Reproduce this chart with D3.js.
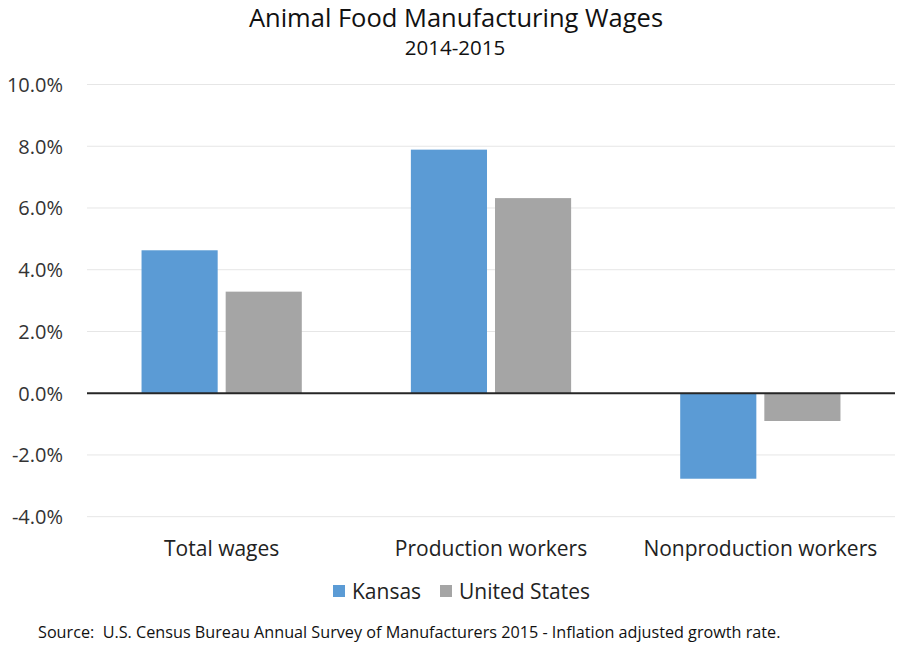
<!DOCTYPE html>
<html><head><meta charset="utf-8">
<script src="https://cdn.jsdelivr.net/npm/d3@7"></script>
<style>body{margin:0;background:#fff;} svg{display:block;font-family:"Open Sans",sans-serif;}</style>
</head><body><svg id="c" width="911" height="646"></svg>
<script>
const categories = ["Total wages", "Production workers", "Nonproduction workers"];
const seriesNames = ["Kansas", "United States"];
const kansas = [4.63, 7.89, -2.77];
const unitedStates = [3.29, 6.32, -0.90];
const yTicks = [-4, -2, 0, 2, 4, 6, 8, 10];
const colors = ["#5B9BD5", "#A5A5A5"];

const svg = d3.select("#c");
const plotLeft = 87, plotRight = 895, plotTop = 84.5, plotBottom = 516.7;
const y = d3.scaleLinear().domain([-4, 10]).range([plotBottom, plotTop]);
const x0 = d3.scaleBand().domain(categories).range([plotLeft, plotRight]).paddingInner(0.405).paddingOuter(0.2025);
const x1 = d3.scaleBand().domain(seriesNames).range([0, x0.bandwidth()]).paddingInner(0.095);

// gridlines
svg.append("g").selectAll("line").data(yTicks.filter(d => d !== 0)).join("line")
  .attr("x1", plotLeft).attr("x2", plotRight)
  .attr("y1", d => y(d)).attr("y2", d => y(d))
  .attr("stroke", "#e6e6e6").attr("stroke-width", 1);

// axis labels
const yAxis = d3.axisLeft(y).tickValues(yTicks).tickSize(0).tickPadding(0)
  .tickFormat(d => d.toFixed(1) + "%");
const ga = svg.append("g").attr("transform", "translate(63,0)").call(yAxis);
ga.select(".domain").remove();
ga.selectAll("text").attr("font-size", 20).attr("fill", "#333").attr("font-family", "'Open Sans',sans-serif").attr("dy", "0.35em");

// bars
const rows = categories.map((c, i) => ({c, vals: [kansas[i], unitedStates[i]]}));
const g = svg.append("g");
rows.forEach(r => {
  r.vals.forEach((v, j) => {
    g.append("rect")
      .attr("x", x0(r.c) + x1(seriesNames[j]))
      .attr("width", x1.bandwidth())
      .attr("y", y(Math.max(0, v)))
      .attr("height", Math.abs(y(v) - y(0)))
      .attr("fill", colors[j]);
  });
});

// zero line
svg.append("line").attr("x1", plotLeft).attr("x2", plotRight).attr("y1", y(0)).attr("y2", y(0))
  .attr("stroke", "#262626").attr("stroke-width", 2);

// category labels
svg.append("g").selectAll("text").data(categories).join("text")
  .attr("x", d => x0(d) + x0.bandwidth() / 2).attr("y", 556)
  .attr("text-anchor", "middle").attr("font-size", 21).attr("fill", "#222").text(d => d);

// title
svg.append("text").attr("x", 456).attr("y", 27).attr("text-anchor", "middle")
  .attr("font-size", 25.5).attr("fill", "#111").text("Animal Food Manufacturing Wages");
svg.append("text").attr("x", 455).attr("y", 55).attr("text-anchor", "middle")
  .attr("font-size", 20.5).attr("fill", "#111").text("2014-2015");

// legend
const legendX = [333, 440];
seriesNames.forEach((s, j) => {
  svg.append("rect").attr("x", legendX[j]).attr("y", 585).attr("width", 12).attr("height", 12).attr("fill", colors[j]);
  svg.append("text").attr("x", legendX[j] + 19).attr("y", 599).attr("font-size", 21).attr("fill", "#222").text(s);
});

// source
svg.append("text").attr("x", 38).attr("y", 638).attr("font-size", 16.2).attr("fill", "#111")
  .style("white-space", "pre")
  .text("Source:  U.S. Census Bureau Annual Survey of Manufacturers 2015 - Inflation adjusted growth rate.");
</script></body></html>
